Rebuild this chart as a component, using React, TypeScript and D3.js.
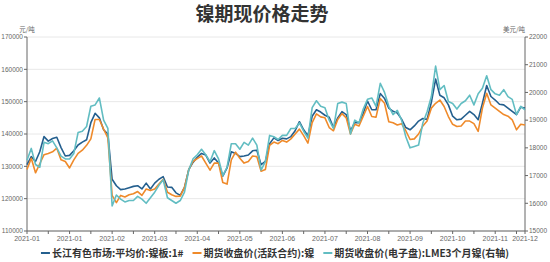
import React, { useLayoutEffect, useRef, useState } from "react";
import * as d3 from "d3";

const title = "镍期现价格走势";
const leftUnit = "元/吨";
const rightUnit = "美元/吨";
const seriesNames = [
  "长江有色市场:平均价:镍板:1#",
  "期货收盘价(活跃合约):镍",
  "期货收盘价(电子盘):LME3个月镍(右轴)",
];
const tickLabels = [
  "2021-01", "2021-01", "2021-02", "2021-03", "2021-04", "2021-05", "2021-06",
  "2021-07", "2021-08", "2021-09", "2021-10", "2021-11", "2021-12",
];
const labelEvery = 10;
const leftTicks = [110000, 120000, 130000, 140000, 150000, 160000, 170000];
const rightTicks = [15000, 16000, 17000, 18000, 19000, 20000, 21000, 22000];

// 长江有色市场:平均价:镍板:1# (元/吨)
const spotNickel = [
  130500, 133000, 131500, 134500, 139200, 137800, 138600, 139000, 135800, 133200,
  133400, 134800, 136600, 137500, 138200, 143500, 146400, 145000, 141300, 140000,
  126000, 124000, 122800, 123000, 123400, 123800, 124000, 123000, 124800, 123000,
  124800, 126000, 126800, 123600, 123500, 121800, 121000, 123500, 129000, 131200,
  132800, 134000, 133500, 131000, 132600, 131000, 127000, 129500, 134500, 134000,
  133000, 133200, 133500, 134800, 135000, 130500, 131500, 137000, 138800, 138000,
  138700, 138500, 139200, 141000, 143800, 141300, 139500, 145500, 147500, 146800,
  145800, 145200, 142000, 145000, 146900, 146000, 141000, 143500, 143500, 146400,
  150200, 147500, 147500, 152500, 151000, 148000, 147000, 146500, 144600, 142000,
  141300, 142500, 144000, 144800, 144500, 149800, 157000, 152000, 151200, 149000,
  145500, 144400, 144600, 145800, 147000, 146000, 144400, 149500, 155000, 151600,
  150500, 149200, 149000, 148000, 147000, 146000, 148300, 148000,
];

// 期货收盘价(活跃合约):镍 (元/吨)
const futuresNickel = [
  129000, 132500, 128000, 130800, 133600, 134000, 134500, 135600, 132000, 131500,
  129500, 132000, 134000, 135000, 136500, 138500, 144500, 144500, 141500, 138800,
  121000, 118800, 121000, 120500, 121200, 121500, 122200, 121000, 123000, 122500,
  123000, 124500, 126000, 122000, 121200, 120700, 120800, 123500, 129000, 131500,
  132400, 133200, 131000, 128800, 131000, 131000, 125000, 124500, 132000, 134400,
  132500, 131000, 131500, 133200, 133000, 128500, 129000, 136500, 137500, 137000,
  138000, 137500, 138500, 140000, 141500, 139500, 137200, 143500, 146200, 145300,
  145000, 142000, 141000, 144500, 146300, 145000, 140000, 143000, 142500, 145500,
  148500, 145400, 145200, 151000, 149500, 143800, 143500, 142800, 143200, 141000,
  138300, 138500, 140000, 142500, 144000, 148000, 149500, 150500, 148500, 145400,
  143000, 142300, 142500, 144000, 144000, 143200, 140800, 148000, 152600, 149000,
  148000, 147000, 146000, 145500, 144400, 141300, 143000, 142800,
];

// 期货收盘价(电子盘):LME3个月镍 (美元/吨, 右轴)
const lmeNickel = [
  17550, 17980, 17400, 17300, 18200, 18150, 18250, 18000, 17700, 17600,
  17600, 17800, 18550, 18600, 18770, 19500, 19550, 19800, 19000, 18700,
  15900, 16300, 16150, 16050, 16100, 16100, 16250, 16150, 16000, 16200,
  16400, 16650, 16850, 16200, 16100, 16000, 16100, 16400, 17200, 17600,
  17750, 17950, 17750, 17500, 17900, 17600, 17000, 17300, 18150, 18150,
  17950, 18200, 18100, 18350, 18100, 17200, 17500, 18450, 18400, 18300,
  18450, 18450, 18700, 18700, 18900, 18600, 18350, 19450, 19700, 19500,
  19450, 19000, 18700, 19600, 19650, 19600, 18500, 19000, 18900, 19400,
  19750, 19800, 19500, 20330, 20000, 19500, 19200, 19350, 19000, 18400,
  18000, 18050, 18100, 18900, 19300, 19850, 20950, 20100, 20250, 19670,
  19600, 19400, 19600, 19700, 19900, 19550, 19950, 20150, 20600, 20100,
  19950, 19900, 20100, 19850, 19750, 19200, 19500, 19370,
];

const colors = ["#245f8e", "#ef8a2a", "#62bdc2"];
const W = 550;
const H = 262;
const plot = { left: 27, right: 525, top: 37, bottom: 231 };
const numFont = "'Liberation Sans', 'Noto Sans CJK SC', sans-serif";
const cjkFont = "'Noto Sans CJK SC', 'Liberation Sans', sans-serif";

function Legend() {
  const refs = useRef<(SVGTextElement | null)[]>([]);
  const [widths, setWidths] = useState<number[]>(seriesNames.map(() => 140));
  useLayoutEffect(() => {
    setWidths(refs.current.map((t) => (t ? t.getComputedTextLength() : 140)));
  }, []);
  const marker = 9;
  const gapMarker = 2;
  const gapItem = 9;
  const itemW = widths.map((w) => marker + gapMarker + w);
  const total = d3.sum(itemW) + gapItem * (itemW.length - 1);
  let cx = (W - total) / 2;
  const y = 253;
  return (
    <g>
      {seriesNames.map((name, i) => {
        const x0 = cx;
        cx += itemW[i] + gapItem;
        return (
          <g key={name}>
            <line x1={x0} x2={x0 + marker} y1={y} y2={y} stroke={colors[i]} strokeWidth={2} />
            <text
              ref={(el) => { refs.current[i] = el; }}
              x={x0 + marker + gapMarker}
              y={y}
              dy="0.35em"
              fontSize={10}
              fontWeight={700}
              fill="#333"
              fontFamily={cjkFont}
            >
              {name}
            </text>
          </g>
        );
      })}
    </g>
  );
}

export default function App() {
  const n = spotNickel.length;
  const x = d3.scaleLinear().domain([0, n - 1]).range([plot.left, plot.right]);
  const yL = d3.scaleLinear().domain([110000, 170000]).range([plot.bottom, plot.top]);
  const yR = d3.scaleLinear().domain([15000, 22000]).range([plot.bottom, plot.top]);
  const lineL = d3.line<number>().x((_, i) => x(i)).y((d) => yL(d));
  const lineR = d3.line<number>().x((_, i) => x(i)).y((d) => yR(d));
  const labelIdx = tickLabels.map((_, i) => (i < tickLabels.length - 1 ? i * labelEvery : n - 1));
  const minorIdx = d3.range(0, n, labelEvery / 2);

  return (
    <svg
      width={W}
      height={H}
      style={{ position: "absolute", left: 0, top: 0, display: "block", background: "#fff" }}
    >
      <text x={262} y={21} textAnchor="middle" fontSize={19} fontWeight={700} fill="#333" fontFamily={cjkFont}>
        {title}
      </text>
      <text x={27} y={32} textAnchor="middle" fontSize={6.5} fill="#666" fontFamily={cjkFont}>
        {leftUnit}
      </text>
      <text x={525} y={32} textAnchor="end" fontSize={6.5} fill="#666" fontFamily={cjkFont}>
        {rightUnit}
      </text>

      {leftTicks.map((t) => (
        <line key={"g" + t} x1={plot.left} x2={plot.right} y1={yL(t)} y2={yL(t)} stroke="#e8e8e8" strokeWidth={1} />
      ))}

      {/* left axis */}
      <line x1={plot.left} x2={plot.left} y1={plot.top} y2={plot.bottom} stroke="#666" strokeWidth={1} />
      {leftTicks.map((t) => (
        <g key={"l" + t}>
          <line x1={plot.left - 3} x2={plot.left} y1={yL(t)} y2={yL(t)} stroke="#666" />
          <text x={plot.left - 4} y={yL(t)} dy="0.35em" textAnchor="end" fontSize={6.5} fill="#666" fontFamily={numFont}>
            {t}
          </text>
        </g>
      ))}

      {/* right axis */}
      <line x1={plot.right} x2={plot.right} y1={plot.top} y2={plot.bottom} stroke="#666" strokeWidth={1} />
      {rightTicks.map((t) => (
        <g key={"r" + t}>
          <line x1={plot.right} x2={plot.right + 3} y1={yR(t)} y2={yR(t)} stroke="#666" />
          <text x={plot.right + 4} y={yR(t)} dy="0.35em" textAnchor="start" fontSize={6.5} fill="#666" fontFamily={numFont}>
            {t}
          </text>
        </g>
      ))}

      {/* x axis */}
      <line x1={plot.left} x2={plot.right} y1={plot.bottom} y2={plot.bottom} stroke="#666" strokeWidth={1} />
      {minorIdx.map((i) => (
        <line key={"m" + i} x1={x(i)} x2={x(i)} y1={plot.bottom} y2={plot.bottom + 3} stroke="#666" />
      ))}
      <line x1={x(n - 1)} x2={x(n - 1)} y1={plot.bottom} y2={plot.bottom + 3} stroke="#666" />
      {tickLabels.map((t, k) => (
        <text key={"x" + k} x={x(labelIdx[k])} y={plot.bottom + 10} textAnchor="middle" fontSize={7} fill="#666" fontFamily={numFont}>
          {t}
        </text>
      ))}

      <path d={lineL(spotNickel) || ""} fill="none" stroke={colors[0]} strokeWidth={1.6} strokeLinejoin="round" />
      <path d={lineL(futuresNickel) || ""} fill="none" stroke={colors[1]} strokeWidth={1.6} strokeLinejoin="round" />
      <path d={lineR(lmeNickel) || ""} fill="none" stroke={colors[2]} strokeWidth={1.6} strokeLinejoin="round" />

      <Legend />
    </svg>
  );
}
